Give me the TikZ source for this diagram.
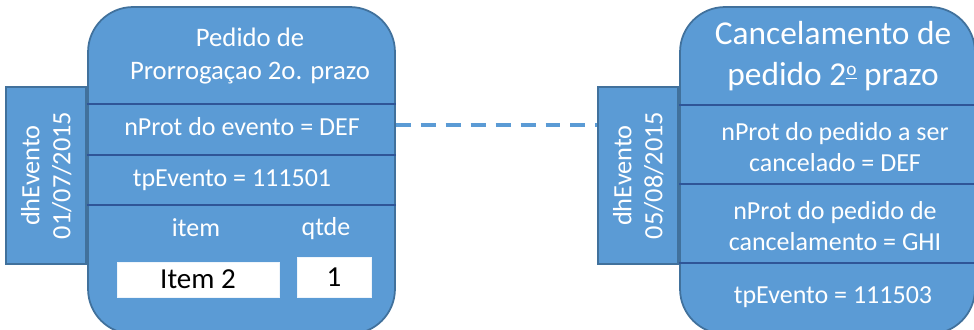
\documentclass[tikz,border=0pt]{standalone}
\usepackage{fontspec}
\setmainfont{Carlito}
\usetikzlibrary{positioning}
\definecolor{evfill}{HTML}{5B9BD5}
\definecolor{evedge}{HTML}{41719C}
\definecolor{evsep}{HTML}{2F5597}
\newcommand{\ordo}{\raisebox{0.62ex}{\fontsize{11}{11}\selectfont\underline{o}}}
\tikzset{
  evbox/.style={draw=evedge, fill=evfill, line width=1pt, rounded corners=0.9cm,
    minimum width=#1, minimum height=6.54cm, inner sep=0pt},
  evtab/.style={draw=evedge, fill=evfill, line width=1pt,
    minimum width=1.6cm, minimum height=3.54cm, inner sep=0pt},
  sepline/.style={draw=evsep, line width=1.5pt},
  evtext/.style={text=white, align=center, inner sep=0pt,
    font=\fontsize{14.8}{18}\selectfont},
  evtitle/.style={evtext, font=\fontsize{15.2}{19.3}\selectfont},
  valbox/.style={fill=white, draw=white!90!evfill, inner sep=0pt,
    font=\fontsize{16.5}{18}\selectfont},
  link/.style={draw=evfill, line width=1.8pt, dash pattern=on 8.5pt off 5.7pt}
}
\begin{document}
\begin{tikzpicture}[x=0.02cm, y=-0.02cm]
\useasboundingbox (0,0) rectangle (974,330);
\clip (0,0) rectangle (974,330);

% pedido de prorrogacao
\node[evbox=6.14cm] (boxA) at (241.5,170.5) {};
\node[evtab, left=0pt of boxA, yshift=-0.1cm] (tabA) {};
\node[evtext, rotate=90, font=\fontsize{15}{17.6}\selectfont] (dataA) at (tabA) {dhEvento\\01/07/2015};
\draw[sepline] (boxA.west |- 0,104) -- (boxA.east |- 0,104);
\draw[sepline] (boxA.west |- 0,155) -- (boxA.east |- 0,155);
\draw[sepline] (boxA.west |- 0,205) -- (boxA.east |- 0,205);
\node[evtitle] (titleA) at (250,56) {Pedido de\\ Prorrogaçao 2o. prazo};
\node[evtext] (protA) at (242,127) {nProt do evento = DEF};
\node[evtext] (tipoA) at (232,180) {tpEvento = 111501};
\node[evtext] (itemA) at (196,228) {item};
\node[evtext] (qtdeA) at (326,229) {qtde};
\node[valbox, minimum width=3.24cm, minimum height=0.7cm] (itemval) at (198,279.5) {Item 2};
\node[valbox, minimum width=1.48cm, minimum height=0.8cm] (qtdeval) at (334,277) {1};

% cancelamento
\node[evbox=5.9cm] (boxB) at (827.5,170.5) {};
\node[evtab, left=0pt of boxB, yshift=-0.1cm] (tabB) {};
\node[evtext, rotate=90, font=\fontsize{15}{17.6}\selectfont] (dataB) at (tabB) {dhEvento\\05/08/2015};
\draw[sepline] (boxB.west |- 0,105) -- (boxB.east |- 0,105);
\draw[sepline] (boxB.west |- 0,184) -- (boxB.east |- 0,184);
\draw[sepline] (boxB.west |- 0,263) -- (boxB.east |- 0,263);
\node[evtitle, font=\fontsize{19}{23.5}\selectfont] (titleB) at (833,56) {Cancelamento de\\pedido 2\ordo{} prazo};
\node[evtext] (protB) at (835,147) {nProt do pedido a ser\\cancelado = DEF};
\node[evtext] (cancB) at (835,226) {nProt do pedido de\\cancelamento = GHI};
\node[evtext] (tipoB) at (833,297) {tpEvento = 111503};

\draw[link] (boxA.east |- 0,125) -- (tabB.west |- 0,125);
\end{tikzpicture}
\end{document}
